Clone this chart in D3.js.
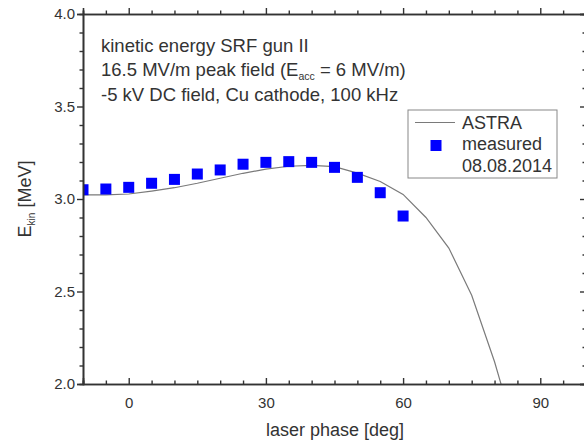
<!DOCTYPE html>
<html>
<head>
<meta charset="utf-8">
<script src="https://cdn.jsdelivr.net/npm/d3@7"></script>
<style>
  body { margin: 0; background: #fff; }
  text { font-family: "Liberation Sans", Arial, sans-serif; fill: #333; }
</style>
</head>
<body>
<div id="chart"></div>
<script>
// measured points (laser phase in deg, kinetic energy in MeV)
const measPhase = [-10, -5, 0, 5, 10, 15, 20, 25, 30, 35, 40, 45, 50, 55, 60];
const measEkin = [3.05, 3.054, 3.063, 3.085, 3.106, 3.135, 3.157, 3.188, 3.198, 3.202, 3.198, 3.171, 3.117, 3.034, 2.908];

// ASTRA simulation
const astraPhase = [-10, -5, 0, 5, 10, 15, 20, 25, 30, 35, 40, 45, 50, 55, 60, 65, 70, 75, 80, 82];
const astraEkin = [3.022, 3.022, 3.027, 3.043, 3.061, 3.085, 3.112, 3.139, 3.161, 3.177, 3.182, 3.175, 3.14, 3.095, 3.025, 2.9, 2.735, 2.48, 2.12, 1.95];

const xMajor = [0, 30, 60, 90];
const yMajor = [2.0, 2.5, 3.0, 3.5, 4.0];

const noteLines = ["kinetic energy SRF gun II", "16.5 MV/m peak field (E", "-5 kV DC field, Cu cathode, 100 kHz"];
const legendLabels = ["ASTRA", "measured", "08.08.2014"];

const W = 584, H = 442;
const margin = { top: 14, right: -2, bottom: 58, left: 83 };
const width = W - margin.left - margin.right;
const height = H - margin.top - margin.bottom;

const svg = d3.select("#chart").append("svg")
    .attr("width", W).attr("height", H);

const g = svg.append("g").attr("transform", `translate(${margin.left},${margin.top})`);

const xScale = d3.scaleLinear().domain([-10, 100]).range([0, width]);
const yScale = d3.scaleLinear().domain([2.0, 4.0]).range([height, 0]);

g.append("clipPath").attr("id", "plotclip")
    .append("rect").attr("width", width).attr("height", height);

// axes: ticks pointing inward on all four sides
const xMinor = d3.range(-10, 101, 5).filter(d => !xMajor.includes(d));
const yMinor = d3.range(20, 41, 1).map(d => d / 10).filter(d => !yMajor.includes(d));

function drawAxes() {
    const axes = [
        [d3.axisBottom, `translate(0,${height})`, xScale, xMajor, xMinor, true, -1],
        [d3.axisTop, `translate(0,0)`, xScale, xMajor, xMinor, false, 1],
        [d3.axisLeft, `translate(0,0)`, yScale, yMajor, yMinor, true, 1],
        [d3.axisRight, `translate(${width},0)`, yScale, yMajor, yMinor, false, -1]
    ];
    axes.forEach(([fn, tr, sc, major, minor, labels, dir]) => {
        const minorAx = g.append("g").attr("transform", tr)
            .call(fn(sc).tickValues(minor).tickSize(3.5 * dir).tickFormat(""));
        const majorAx = g.append("g").attr("transform", tr)
            .call(fn(sc).tickValues(major).tickSize(6 * dir)
                .tickFormat(labels ? d3.format(sc === yScale ? ".1f" : "d") : ""));
        [minorAx, majorAx].forEach(a => {
            a.select(".domain").attr("stroke", "#333").attr("stroke-width", 1.6);
            a.selectAll(".tick line").attr("stroke", "#333").attr("stroke-width", 1.4);
            a.selectAll("text").style("font-size", "15px").attr("fill", "#333")
                .style("font-family", "'Liberation Sans', Arial, sans-serif");
        });
        if (labels) {
            if (sc === xScale) majorAx.selectAll("text").attr("y", 13);
            else majorAx.selectAll("text").attr("x", -8);
        }
    });
}

// ASTRA line
const line = d3.line()
    .x((d, i) => xScale(astraPhase[i]))
    .y(d => yScale(d));

g.append("path")
    .datum(astraEkin)
    .attr("clip-path", "url(#plotclip)")
    .attr("fill", "none")
    .attr("stroke", "#7a7a7a")
    .attr("stroke-width", 1.2)
    .attr("d", line);

// measured squares
const sq = 11;
g.append("g").attr("clip-path", "url(#plotclip)")
    .selectAll("rect")
    .data(measEkin)
    .enter()
    .append("rect")
    .attr("x", (d, i) => xScale(measPhase[i]) - sq / 2)
    .attr("y", d => yScale(d) - sq / 2)
    .attr("width", sq).attr("height", sq)
    .attr("fill", "#0000ff");

drawAxes();

// annotation text
const note = svg.append("text").attr("x", 101).style("font-size", "18.5px");
note.append("tspan").attr("x", 101).attr("y", 52).text(noteLines[0]);
note.append("tspan").attr("x", 101).attr("y", 76).text(noteLines[1]);
note.append("tspan").attr("dy", 4).style("font-size", "10.5px").text("acc");
note.append("tspan").attr("dy", -4).text(" = 6 MV/m)");
note.append("tspan").attr("x", 101).attr("y", 101).text(noteLines[2]);

// legend
const lg = svg.append("g").attr("transform", "translate(408,110)");
lg.append("rect").attr("width", 149).attr("height", 68)
    .attr("fill", "#fff").attr("stroke", "#888").attr("stroke-width", 1);
lg.append("line").attr("x1", 7).attr("x2", 47).attr("y1", 12.5).attr("y2", 12.5)
    .attr("stroke", "#7a7a7a").attr("stroke-width", 1.2);
lg.append("rect").attr("x", 28 - sq / 2).attr("y", 35.5 - sq / 2)
    .attr("width", sq).attr("height", sq).attr("fill", "#0000ff");
lg.selectAll("text.lab").data(legendLabels).enter().append("text")
    .attr("class", "lab")
    .attr("x", 54)
    .attr("y", (d, i) => 18.5 + i * 21.5)
    .style("font-size", "18px")
    .text(d => d);

// axis titles
svg.append("text")
    .attr("x", 335).attr("y", 436)
    .attr("text-anchor", "middle")
    .style("font-size", "18px")
    .text("laser phase [deg]");

const yt = svg.append("text")
    .attr("transform", `translate(31,${margin.top + height / 2}) rotate(-90)`)
    .attr("text-anchor", "middle")
    .style("font-size", "18px");
yt.append("tspan").text("E");
yt.append("tspan").attr("dy", 4).style("font-size", "10px").text("kin");
yt.append("tspan").attr("dy", -4).text(" [MeV]");
</script>
</body>
</html>
